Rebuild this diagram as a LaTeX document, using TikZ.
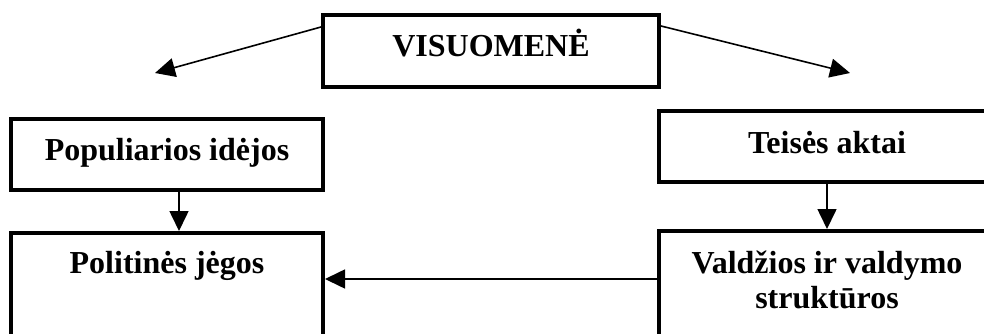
\documentclass[tikz,border=0pt]{standalone}
\usepackage{fontspec}
\setmainfont{Liberation Serif}
\usetikzlibrary{arrows.meta}
\begin{document}
\begin{tikzpicture}[x=1pt,y=-1pt,
  box/.style={draw, line width=4pt, inner sep=0pt, rectangle},
  lbl/.style={font=\fontsize{32}{36}\selectfont\bfseries, anchor=base, inner sep=0pt, align=center},
  conn/.style={line width=1.6pt, -{Triangle[length=20pt,width=19pt]}}]
\clip (0,0) rectangle (984,334);
\fill[white] (0,0) rectangle (984,334);
% boxes
\node[box, minimum width=336pt, minimum height=72pt] (vis) at (491,51) {};
\node[box, minimum width=312pt, minimum height=70.5pt] (pop) at (167,154.25) {};
\node[box, minimum width=336pt, minimum height=71pt] (teis) at (827,146.5) {};
\node[box, minimum width=312pt, minimum height=120pt] (pol) at (167,293) {};
\node[box, minimum width=336pt, minimum height=120pt] (vald) at (827,291) {};
% texts
\node[lbl] (tvis) at (491,57) {VISUOMENĖ};
\node[lbl] (tpop) at (167,160) {Populiarios idėjos};
\node[lbl] (tteis) at (827,153) {Teisės aktai};
\node[lbl] (tpol) at (167,273) {Politinės jėgos};
\node[lbl] (tvald1) at (827,273) {Valdžios ir valdymo};
\node[lbl] (tvald2) at (827,308) {struktūros};
% free arrow ends
\coordinate (lt) at (155,73);
\coordinate (rt) at (850,73);
\coordinate (hl) at (700,279);
% connectors
\draw[conn] (vis.west |- 0,27) -- (lt);
\draw[conn] (vis.east |- 0,26) -- (rt);
\draw[conn] ([xshift=12pt]pop.south) -- ([xshift=12pt]pol.north);
\draw[conn] (teis.south) -- (vald.north);
\draw[conn] (vald.west |- hl) -- (pol.east |- hl);
\end{tikzpicture}
\end{document}
